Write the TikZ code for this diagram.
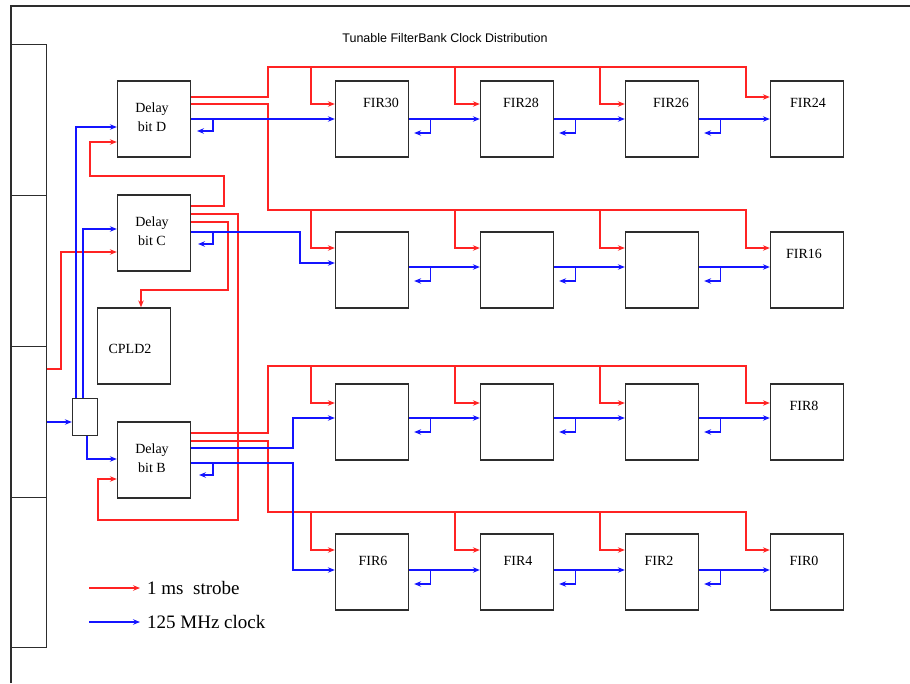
\documentclass[tikz,border=0pt]{standalone}
\usepackage{fontspec}
\setmainfont{Liberation Serif}
\newfontfamily\titlefont{Liberation Sans}
\usetikzlibrary{arrows.meta,calc}
\definecolor{sred}{RGB}{255,35,35}
\definecolor{sblue}{RGB}{20,20,255}
\definecolor{frm}{RGB}{45,45,45}
\begin{document}
\begin{tikzpicture}[x=1pt,y=-1pt,
  blk/.style={draw=frm,line width=1.3pt,minimum width=73pt,minimum height=76pt,inner sep=0pt,anchor=center},
  panel/.style={draw=frm,line width=1.3pt,minimum width=35pt,minimum height=151pt,inner sep=0pt,anchor=north west},
  rd/.style={draw=sred,line width=1.2pt},
  bl/.style={draw=sblue,line width=1.2pt},
  arr/.style={-{Stealth[length=7pt,width=5.5pt,inset=2.5pt]}},
  lbl/.style={font=\fontsize{14}{19}\selectfont,inner sep=0pt,align=center},
  leg/.style={font=\fontsize{19}{22}\selectfont,inner sep=0pt,anchor=west}]
\useasboundingbox (0,0) rectangle (910,683);
% outer frame
\draw[frm,line width=1.3pt] (11,683) -- (11,6) -- (910,6);
% left panels
\node[panel] (p1) at (11,44) {};
\node[panel] (p2) at (11,195) {};
\node[panel] (p3) at (11,346) {};
\node[panel,minimum height=150pt] (p4) at (11,497) {};
% title
\node[font=\titlefont\fontsize{12.5}{14}\selectfont,inner sep=0pt] (title) at (445,38) {Tunable FilterBank Clock Distribution};
% delay boxes
\node[blk] (d) at (154,119) {};
\node[blk] (c) at (154,233) {};
\node[blk] (b) at (154,460) {};
\node[lbl] (dt) at (152,117) {Delay\\bit D};
\node[lbl] (ct) at (152,231) {Delay\\bit C};
\node[lbl] (bt) at (152,458) {Delay\\bit B};
\node[blk] (cpld) at (134,346) {};
\node[lbl] (cpldt) at (130,349) {CPLD2};
\node[draw=frm,line width=1.3pt,minimum width=25pt,minimum height=37pt,inner sep=0pt] (sb) at (85,417) {};
% FIR boxes
\node[blk] (f30) at (372,119) {};
\node[blk] (f28) at (517,119) {};
\node[blk] (f26) at (662,119) {};
\node[blk] (f24) at (807,119) {};
\node[blk] (r2a) at (372,270) {};
\node[blk] (r2b) at (517,270) {};
\node[blk] (r2c) at (662,270) {};
\node[blk] (f16) at (807,270) {};
\node[blk] (r3a) at (372,422) {};
\node[blk] (r3b) at (517,422) {};
\node[blk] (r3c) at (662,422) {};
\node[blk] (f8) at (807,422) {};
\node[blk] (f6) at (372,572) {};
\node[blk] (f4) at (517,572) {};
\node[blk] (f2) at (662,572) {};
\node[blk] (f0) at (807,572) {};
% FIR labels
\node[lbl] (t30) at (381,103) {FIR30};
\node[lbl] (t28) at (521,103) {FIR28};
\node[lbl] (t26) at (671,103) {FIR26};
\node[lbl] (t24) at (808,103) {FIR24};
\node[lbl] (t16) at (804,254) {FIR16};
\node[lbl] (t8) at (804,406) {FIR8};
\node[lbl] (t6) at (373,561) {FIR6};
\node[lbl] (t4) at (518,561) {FIR4};
\node[lbl] (t2) at (659,561) {FIR2};
\node[lbl] (t0) at (804,561) {FIR0};
% ---------- red strobe ----------
% from D: row 1
\draw[rd,arr] (d.east |- 0,97) -- (268,97) -- (268,67) -- (746,67) -- (746,97) -- (f24.west |- 0,97);
\draw[rd,arr] (311,67) -- (311,104) -- (f30.west |- 0,104);
\draw[rd,arr] (455,67) -- (455,104) -- (f28.west |- 0,104);
\draw[rd,arr] (600,67) -- (600,104) -- (f26.west |- 0,104);
% from D: row 2
\draw[rd,arr] (d.east |- 0,104) -- (268,104) -- (268,210) -- (746,210) -- (746,248) -- (f16.west |- 0,248);
\draw[rd,arr] (311,210) -- (311,248) -- (r2a.west |- 0,248);
\draw[rd,arr] (455,210) -- (455,248) -- (r2b.west |- 0,248);
\draw[rd,arr] (600,210) -- (600,248) -- (r2c.west |- 0,248);
% from B: row 3
\draw[rd,arr] (b.east |- 0,433) -- (268,433) -- (268,366) -- (746,366) -- (746,403) -- (f8.west |- 0,403);
\draw[rd,arr] (311,366) -- (311,403) -- (r3a.west |- 0,403);
\draw[rd,arr] (455,366) -- (455,403) -- (r3b.west |- 0,403);
\draw[rd,arr] (600,366) -- (600,403) -- (r3c.west |- 0,403);
% from B: row 4
\draw[rd,arr] (b.east |- 0,441) -- (268,441) -- (268,512) -- (746,512) -- (746,550) -- (f0.west |- 0,550);
\draw[rd,arr] (311,512) -- (311,550) -- (f6.west |- 0,550);
\draw[rd,arr] (455,512) -- (455,550) -- (f4.west |- 0,550);
\draw[rd,arr] (600,512) -- (600,550) -- (f2.west |- 0,550);
% left side red
\draw[rd,arr] (p3.east |- 0,369) -- (61,369) -- (61,252) -- (c.west |- 0,252);
\draw[rd,arr] (c.east |- 0,206) -- (224,206) -- (224,176) -- (90,176) -- (90,142) -- (d.west |- 0,142);
\draw[rd,arr] (c.east |- 0,214) -- (238,214) -- (238,520) -- (98,520) -- (98,479) -- (b.west |- 0,479);
\draw[rd,arr] (c.east |- 0,222) -- (228,222) -- (228,290) -- (141,290) -- (cpld.north -| 141,0);
% ---------- blue clock ----------
\draw[bl,arr] (p3.east |- 0,422) -- (sb.west |- 0,422);
\draw[bl,arr] (sb.north -| 76,0) -- (76,127) -- (d.west |- 0,127);
\draw[bl,arr] (sb.north -| 83,0) -- (83,229) -- (c.west |- 0,229);
\draw[bl,arr] (sb.south -| 87,0) -- (87,459) -- (b.west |- 0,459);
% row 1
\draw[bl,arr] (d.east) -- (f30.west);
\draw[bl,arr] (213,119) -- (213,131) -- (197,131);
\foreach \a/\z in {f30/f28,f28/f26,f26/f24}{
  \draw[bl,arr] (\a.east) -- (\z.west);
  \draw[bl,arr] ($(\a.east)+(21,0)$) -- ++(0,14) -- ++(-16,0);
}
% row 2
\draw[bl,arr] (c.east |- 0,232) -- (300,232) -- (300,263) -- (r2a.west |- 0,263);
\draw[bl,arr] (213,232) -- (213,244) -- (198,244);
\foreach \a/\z in {r2a/r2b,r2b/r2c,r2c/f16}{
  \draw[bl,arr] ([yshift=3pt]\a.east) -- ([yshift=3pt]\z.west);
  \draw[bl,arr] ($([yshift=3pt]\a.east)+(21,0)$) -- ++(0,14) -- ++(-16,0);
}
% row 3
\draw[bl,arr] (b.east |- 0,448) -- (293,448) -- (293,418) -- (r3a.west |- 0,418);
\foreach \a/\z in {r3a/r3b,r3b/r3c,r3c/f8}{
  \draw[bl,arr] ([yshift=4pt]\a.east) -- ([yshift=4pt]\z.west);
  \draw[bl,arr] ($([yshift=4pt]\a.east)+(21,0)$) -- ++(0,14) -- ++(-16,0);
}
% row 4
\draw[bl,arr] (b.east |- 0,463) -- (293,463) -- (293,570) -- (f6.west |- 0,570);
\draw[bl,arr] (213,463) -- (213,475) -- (199,475);
\foreach \a/\z in {f6/f4,f4/f2,f2/f0}{
  \draw[bl,arr] ([yshift=2pt]\a.east) -- ([yshift=2pt]\z.west);
  \draw[bl,arr] ($([yshift=2pt]\a.east)+(21,0)$) -- ++(0,14) -- ++(-16,0);
}
% legend
\coordinate (l1a) at (89,588);
\coordinate (l1b) at (140,588);
\coordinate (l2a) at (89,622);
\coordinate (l2b) at (140,622);
\draw[rd,arr] (l1a) -- (l1b);
\draw[bl,arr] (l2a) -- (l2b);
\node[leg] (l1t) at (147,588) {1 ms\ \ strobe};
\node[leg] (l2t) at (147,622) {125 MHz clock};
\end{tikzpicture}
\end{document}
